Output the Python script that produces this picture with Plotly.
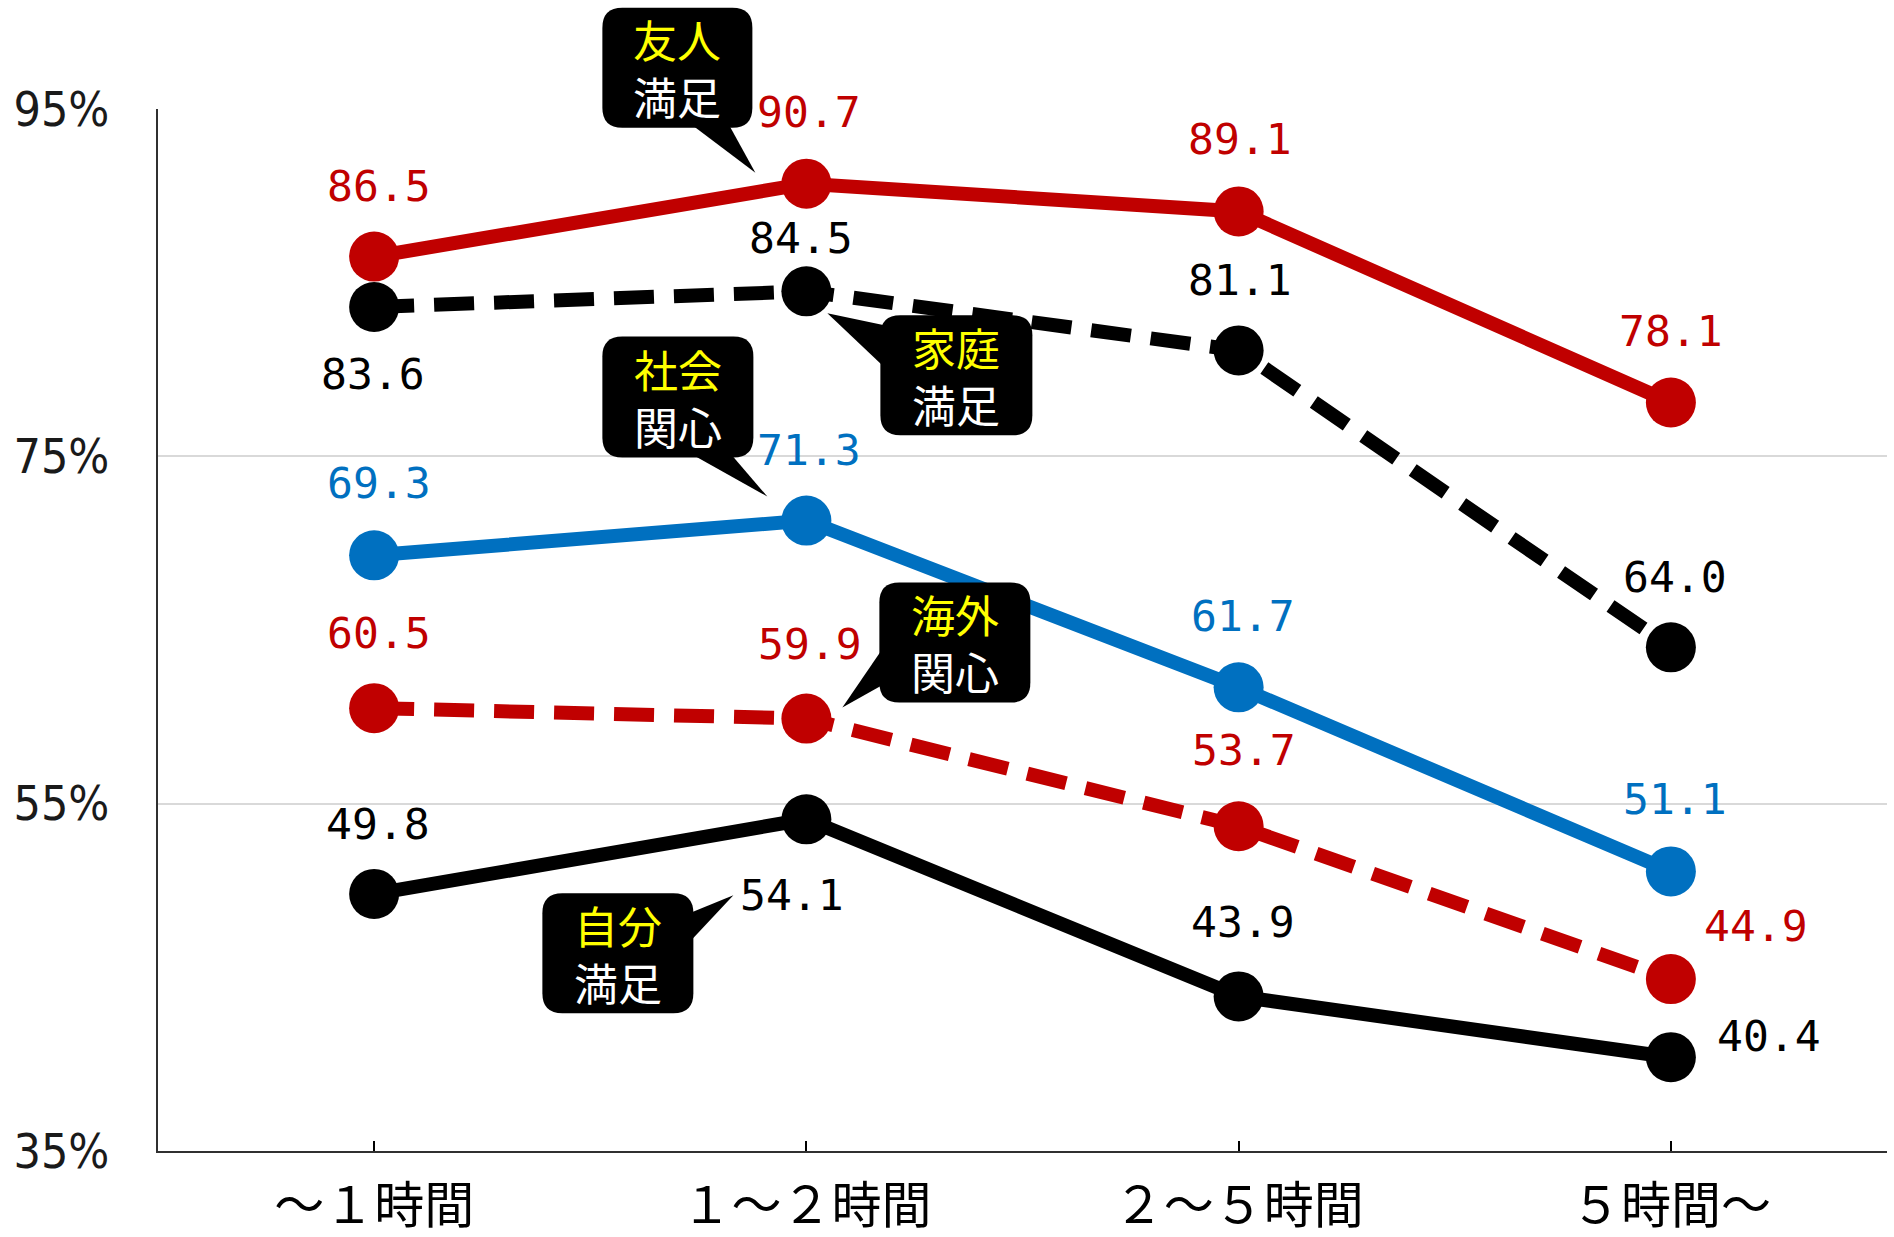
import plotly.graph_objects as go

categories = ["～１時間", "１～２時間", "２～５時間", "５時間～"]
friend = [86.5, 90.7, 89.1, 78.1]
family = [83.6, 84.5, 81.1, 64.0]
social = [69.3, 71.3, 61.7, 51.1]
overseas = [60.5, 59.9, 53.7, 44.9]
self_sat = [49.8, 54.1, 43.9, 40.4]
y_ticks = [35, 55, 75, 95]

RED = "#C00000"
BLUE = "#0070C0"
BLACK = "#000000"
NUM_FONT = "DejaVu Sans Mono, Liberation Mono, monospace"
JP_FONT = "Noto Sans CJK JP, Noto Sans, sans-serif"
AXIS_FONT = "Liberation Sans Narrow, DejaVu Sans Condensed, Arial Narrow, sans-serif"

W, H = 1894, 1237
M = dict(l=158, r=7, t=109, b=86)
X_RANGE = [-0.5, 3.5]
Y_RANGE = [35, 95]
PLOT_W = W - M["l"] - M["r"]
PLOT_H = H - M["t"] - M["b"]


def to_px(i, v):
    px = M["l"] + (i - X_RANGE[0]) / (X_RANGE[1] - X_RANGE[0]) * PLOT_W
    py = M["t"] + (Y_RANGE[1] - v) / (Y_RANGE[1] - Y_RANGE[0]) * PLOT_H
    return px, py


def to_paper(px, py):
    return (px - M["l"]) / PLOT_W, 1 - (py - M["t"]) / PLOT_H


# name, values, colour, dash, label offsets (px, +y = up)
series = [
    ("自分満足", self_sat, BLACK, "solid", [(4, 70), (-14, -76), (4, 74), (98, 21)]),
    ("海外関心", overseas, RED, "40px,20px", [(5, 75), (4, 75), (5, 76), (85, 53)]),
    ("社会関心", social, BLUE, "solid", [(5, 72), (3, 71), (4, 71), (4, 72)]),
    ("家庭満足", family, BLACK, "40px,20px", [(-1, -67), (-5, 53), (1, 70), (4, 70)]),
    ("友人満足", friend, RED, "solid", [(5, 71), (3, 72), (1, 72), (0, 72)]),
]

# top word, bottom word, series values, point index, box (px offsets, +y = down), wedge
callouts = [
    ("友人", "満足", friend, 1, (-204, -176, -54, -56), [(-116, -60), (-78, -60), (-51, -11)]),
    ("家庭", "満足", family, 1, (74, 24, 226, 144), [(78, 34), (78, 76), (21, 22)]),
    ("社会", "関心", social, 1, (-204, -184, -53, -63), [(-116, -67), (-76, -67), (-39, -24)]),
    ("海外", "関心", overseas, 1, (73, -136, 224, -16), [(77, -71), (77, -34), (36, -11)]),
    ("自分", "満足", self_sat, 1, (-264, 74, -113, 194), [(-117, 94), (-117, 123), (-73, 76)]),
]

fig = go.Figure()
annotations = []

for name, vals, color, dash, offs in series:
    xs = list(range(len(categories)))
    fig.add_trace(go.Scatter(
        x=xs, y=vals, name=name, mode="lines+markers",
        line=dict(color=color, width=14, dash=dash),
        marker=dict(color=color, size=50),
        showlegend=False, cliponaxis=False,
    ))
    for i, v in enumerate(vals):
        dx, dy = offs[i]
        annotations.append(dict(
            x=i, y=v, xref="x", yref="y", text=f"{v:.1f}", showarrow=False,
            xshift=dx, yshift=dy, font=dict(family=NUM_FONT, size=43, color=color),
        ))


def rounded_path(pts_px, r=20):
    x0, y0, x1, y1 = pts_px
    corners = [
        ((x0 + r, y0), (x1 - r, y0), (x1, y0), (x1, y0 + r)),
        (None, (x1, y1 - r), (x1, y1), (x1 - r, y1)),
        (None, (x0 + r, y1), (x0, y1), (x0, y1 - r)),
        (None, (x0, y0 + r), (x0, y0), (x0 + r, y0)),
    ]
    d = ""
    for start, line_to, ctrl, end in corners:
        if start:
            d += "M%.5f,%.5f " % to_paper(*start)
        d += "L%.5f,%.5f " % to_paper(*line_to)
        d += "Q%.5f,%.5f %.5f,%.5f " % (*to_paper(*ctrl), *to_paper(*end))
    return d + "Z"


shapes = []
for top, bottom, vals, idx, box, wedge in callouts:
    mx, my = to_px(idx, vals[idx])
    bx0, by0, bx1, by1 = box
    shapes.append(dict(
        type="path", xref="paper", yref="paper", layer="above",
        path=rounded_path((mx + bx0, my + by0, mx + bx1, my + by1)),
        fillcolor=BLACK, line=dict(width=0),
    ))
    wpts = [to_paper(mx + dx, my + dy) for dx, dy in wedge]
    shapes.append(dict(
        type="path", xref="paper", yref="paper", layer="above",
        path="M%.5f,%.5f L%.5f,%.5f L%.5f,%.5f Z" % (*wpts[0], *wpts[1], *wpts[2]),
        fillcolor=BLACK, line=dict(width=0),
    ))
    cx, cy = to_paper(mx + (bx0 + bx1) / 2, my + (by0 + by1) / 2)
    annotations.append(dict(
        x=cx, y=cy, xref="paper", yref="paper", showarrow=False,
        text=f"<span style='color:#FFFF00'>{top}</span><br>{bottom}",
        font=dict(family=JP_FONT, size=44, color="#FFFFFF"),
        xanchor="center", yanchor="middle",
    ))

fig.update_layout(
    width=W, height=H,
    margin=M,
    paper_bgcolor="white",
    plot_bgcolor="white",
    shapes=shapes,
    annotations=annotations,
    xaxis=dict(
        range=X_RANGE,
        tickvals=[-0.5, 0, 1, 2, 3, 3.5],
        ticktext=[""] + categories + [""],
        ticks="inside", ticklen=10, tickwidth=2, tickcolor=BLACK,
        showline=True, linecolor="#303030", linewidth=2,
        showgrid=False, zeroline=False, automargin=False,
        tickfont=dict(family=JP_FONT, size=50, color=BLACK),
        ticklabelstandoff=10,
    ),
    yaxis=dict(
        range=Y_RANGE,
        tickvals=y_ticks,
        ticktext=[f"{v}%" for v in y_ticks],
        showgrid=True, gridcolor="#D9D9D9", gridwidth=2,
        showline=True, linecolor="#303030", linewidth=2,
        zeroline=False, ticks="", automargin=False,
        tickfont=dict(family=AXIS_FONT, size=48, color="#1a1a1a"),
        ticklabelstandoff=37,
    ),
)

fig.write_html(
    "out.html",
    config=dict(displayModeBar=False),
    post_script="document.body.style.margin='0';document.body.style.overflow='hidden';",
)
